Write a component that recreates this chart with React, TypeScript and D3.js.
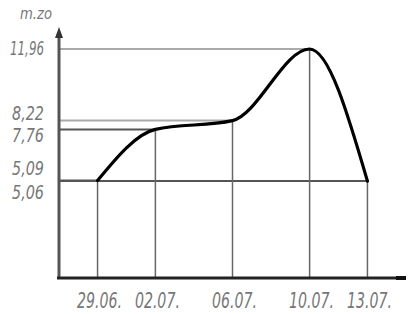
import React from 'react';
import * as d3 from 'd3';

// dates along the bottom and the value read at each
const dates = ['2021-06-29', '2021-07-02', '2021-07-06', '2021-07-10', '2021-07-13'];
const dateLabels = ['29.06.', '02.07.', '06.07.', '10.07.', '13.07.'];
const values = [5.09, 7.76, 8.22, 11.96, 5.06];
const valueLabels = ['5,09', '7,76', '8,22', '11,96', '5,06'];
const unitLabel = 'm.zo';

const W = 410;
const H = 314;
const parse = d3.timeParse('%Y-%m-%d');

const App: React.FC = () => {
    const x = d3.scaleTime()
        .domain([parse('2021-06-27')!, parse('2021-07-15')!])
        .range([59, 406]);
    const y = d3.scaleLinear().domain([0, 11.96]).range([278, 49]);

    const pts = dates.map((d, i) => ({ date: parse(d)!, value: values[i] }));

    const line = d3.line<{ date: Date; value: number }>()
        .x(d => x(d.date))
        .y(d => y(d.value))
        .curve(d3.curveMonotoneX);

    // little nudges so the close labels do not overlap
    const labelNudge = [-12, 6, -7, -1, 11];
    const font = "'Liberation Sans Narrow', 'DejaVu Sans Condensed', 'Liberation Sans', sans-serif";

    const x0 = x.range()[0];
    const yBase = y(0);

    return (
        <svg width={W} height={H} style={{ position: 'absolute', left: 0, top: 0, background: '#fff' }}>
            {/* guide lines from the axis to each point */}
            {pts.map((p, i) => (
                <line key={'h' + i} x1={x0} x2={x(p.date)} y1={y(p.value)} y2={y(p.value)}
                    stroke={p.value > 8 ? '#aaa' : '#555'} strokeWidth={2} />
            ))}
            {pts.map((p, i) => (
                <line key={'v' + i} x1={x(p.date)} x2={x(p.date)} y1={yBase} y2={y(p.value)}
                    stroke="#666" strokeWidth={1.5} />
            ))}

            {/* axes */}
            <line x1={x0} x2={x0} y1={yBase + 1} y2={34} stroke="#555" strokeWidth={3} />
            <path d={`M${x0 - 4},38 L${x0},27 L${x0 + 4},38 Z`} fill="#333" />
            <line x1={x0 - 2} x2={x.range()[1]} y1={yBase} y2={yBase} stroke="#222" strokeWidth={3} />
            <line x1={x.range()[1] - 10} x2={x.range()[1]} y1={yBase} y2={yBase} stroke="#111" strokeWidth={4} />

            <path d={line(pts) || ''} fill="none" stroke="#000" strokeWidth={3.2} strokeLinejoin="round" strokeLinecap="round" />

            {/* value labels */}
            {pts.map((p, i) => (
                <text key={'yl' + i} x={44} y={y(p.value) + labelNudge[i]} dy="0.36em"
                    textAnchor="end" fontFamily={font} fontStyle="italic" fontSize={19}
                    fill="#777" textLength={valueLabels[i].length > 4 ? 34 : 32} lengthAdjust="spacingAndGlyphs">
                    {valueLabels[i]}
                </text>
            ))}

            {/* date labels */}
            {pts.map((p, i) => (
                <text key={'xl' + i} x={x(p.date) + 2} y={300} dy="0.36em"
                    textAnchor="middle" fontFamily={font} fontStyle="italic" fontSize={21}
                    fill="#777" textLength={45} lengthAdjust="spacingAndGlyphs">
                    {dateLabels[i]}
                </text>
            ))}

            <text x={36} y={14} dy="0.36em" textAnchor="middle" fontFamily={font} fontStyle="italic"
                fontSize={15} fill="#777" textLength={32} lengthAdjust="spacingAndGlyphs">
                {unitLabel}
            </text>
        </svg>
    );
};

export default App;
